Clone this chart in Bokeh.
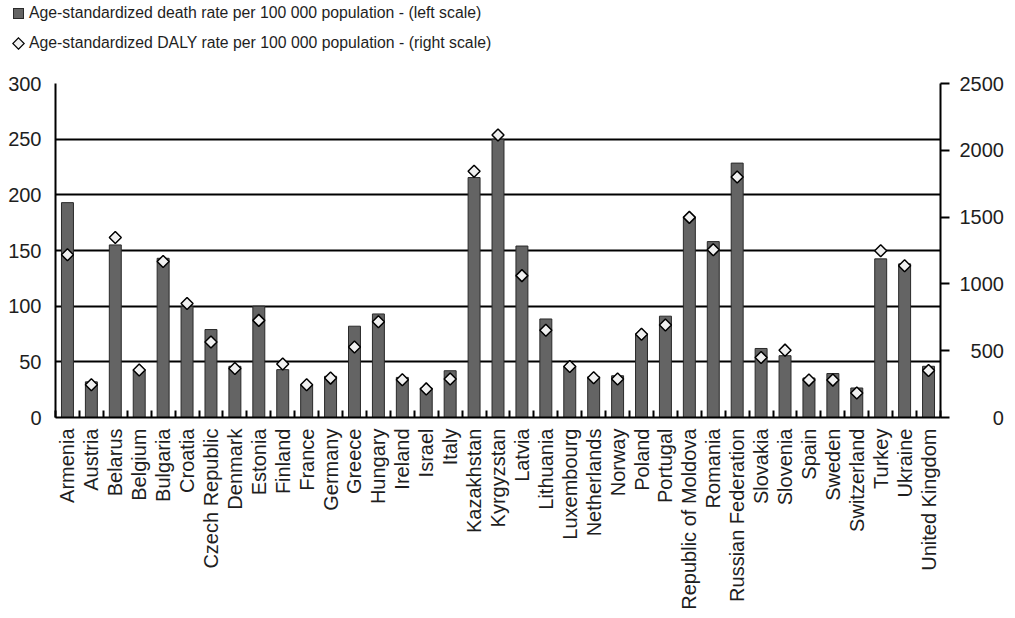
import numpy as np
from bokeh.plotting import figure
from bokeh.layouts import column
from bokeh.models import (Range1d, LinearAxis, FixedTicker, SingleIntervalTicker,
                          CustomJSTickFormatter, Div)
from bokeh.embed import file_html
from bokeh.resources import INLINE

countries = ["Armenia", "Austria", "Belarus", "Belgium", "Bulgaria", "Croatia",
             "Czech Republic", "Denmark", "Estonia", "Finland", "France", "Germany",
             "Greece", "Hungary", "Ireland", "Israel", "Italy", "Kazakhstan",
             "Kyrgyzstan", "Latvia", "Lithuania", "Luxembourg", "Netherlands",
             "Norway", "Poland", "Portugal", "Republic of Moldova", "Romania",
             "Russian Federation", "Slovakia", "Slovenia", "Spain", "Sweden",
             "Switzerland", "Turkey", "Ukraine", "United Kingdom"]

death_rate = [193, 32, 155, 43, 143, 100, 79, 46, 100, 43, 29, 37,
              82, 93, 36, 26.5, 42, 215.5, 250, 154, 88.5, 46, 36.5,
              37.5, 75, 91, 180, 158, 228.5, 62, 55.5, 35.5, 39.5,
              26.5, 142.5, 138, 46]

daly_rate = [1218, 245, 1347, 355, 1168, 853, 565, 367, 727, 400, 245, 295,
             528, 717, 283, 214, 288, 1843, 2115, 1062, 653, 382, 298,
             288, 623, 692, 1498, 1255, 1800, 449, 504, 280, 280,
             184, 1248, 1136, 352]

left_ticks_step = 50
right_ticks_step = 500
left_max = 300
right_max = 2500

death_label = "Age-standardized death rate per 100 000 population - (left scale)"
daly_label = "Age-standardized DALY rate per 100 000 population - (right scale)"

FONT = "Liberation Sans"
TXT = "#1e1e1e"
BAR_FILL = "#646464"
BAR_LINE = "#2a2a2a"
PT_FILL = "#f0f0f0"

BL, FW, BR = 55, 885, 68
TOTAL_W = BL + FW + BR
LH = 67

n = len(countries)
xs = [i + 0.5 for i in range(n)]

# ---------- main chart ----------
p = figure(frame_width=FW, frame_height=334, output_backend="svg", toolbar_location=None,
           x_range=Range1d(0, n), y_range=Range1d(0, left_max),
           min_border_left=BL, min_border_right=BR, min_border_top=16, min_border_bottom=190,
           background_fill_color="white", border_fill_color="white")
p.outline_line_color = None
p.extra_y_ranges = {"daly": Range1d(0, right_max)}

bars = p.vbar(x=xs, top=death_rate, width=0.5, bottom=0,
              fill_color=BAR_FILL, line_color=BAR_LINE, line_width=1)
pts = p.scatter(x=xs, y=daly_rate, y_range_name="daly", marker="square",
                angle=np.pi / 4, size=8.5, fill_color=PT_FILL,
                line_color="black", line_width=1.5)

ya = p.yaxis[0]
ya.ticker = SingleIntervalTicker(interval=left_ticks_step)
ya.major_tick_in = 0
ya.major_tick_out = 0
ya.minor_tick_line_color = None
ya.axis_line_color = "black"
ya.axis_line_width = 2
ya.major_label_text_font = FONT
ya.major_label_text_font_size = "20px"
ya.major_label_text_color = TXT
ya.major_label_standoff = 10

ra = LinearAxis(y_range_name="daly", ticker=SingleIntervalTicker(interval=right_ticks_step))
ra.formatter = CustomJSTickFormatter(
    code="const s = tick.toFixed(0); return '\\u2007'.repeat(Math.max(0, 4 - s.length)) + s;")
ra.major_tick_in = 0
ra.major_tick_out = 9
ra.major_tick_line_width = 2
ra.major_tick_line_color = "black"
ra.minor_tick_line_color = None
ra.axis_line_color = "black"
ra.axis_line_width = 2
ra.major_label_text_font = FONT
ra.major_label_text_font_size = "20px"
ra.major_label_text_color = TXT
ra.major_label_standoff = 10
p.add_layout(ra, "right")

xa = p.xaxis[0]
xa.ticker = FixedTicker(ticks=xs, minor_ticks=list(range(n + 1)))
xa.formatter = CustomJSTickFormatter(args=dict(names=countries),
                                     code="return names[Math.floor(tick)] || '';")
xa.major_tick_line_color = None
xa.major_tick_in = 0
xa.major_tick_out = 0
xa.minor_tick_in = 7
xa.minor_tick_out = 0
xa.minor_tick_line_color = "black"
xa.minor_tick_line_width = 2
xa.axis_line_color = "black"
xa.axis_line_width = 2
xa.major_label_orientation = np.pi / 2
xa.major_label_text_font = FONT
xa.major_label_text_font_size = "20px"
xa.major_label_text_color = TXT
xa.major_label_standoff = 11

p.xgrid.grid_line_color = None
p.ygrid.grid_line_color = "black"
p.ygrid.grid_line_width = 2

# ---------- legend strip (HTML) ----------
sq_svg = ('<svg width="11" height="11" style="position:absolute;left:13px;top:8px">'
          f'<rect x="0.5" y="0.5" width="10" height="10" fill="{BAR_FILL}" '
          f'stroke="{BAR_LINE}" stroke-width="1"/></svg>')
dm_svg = ('<svg width="13" height="13" style="position:absolute;left:12px;top:37px">'
          f'<polygon points="6.5,0.8 12.2,6.5 6.5,12.2 0.8,6.5" fill="{PT_FILL}" '
          'stroke="black" stroke-width="1.2"/></svg>')
txt_style = ("position:absolute;left:29px;height:20px;line-height:20px;"
             f"white-space:nowrap;font-family:'{FONT}';font-size:15.8px;color:{TXT};")
html = (f'<div style="position:relative;width:{TOTAL_W}px;height:{LH}px;">'
        + sq_svg
        + f'<div style="{txt_style}top:3px;">{death_label}</div>'
        + dm_svg
        + f'<div style="{txt_style}top:33px;">{daly_label}</div>'
        + '</div>')
legend_div = Div(text=html, width=TOTAL_W, height=LH, margin=0)

layout = column(legend_div, p, spacing=0)
open("out.html", "w").write(file_html(layout, INLINE))
